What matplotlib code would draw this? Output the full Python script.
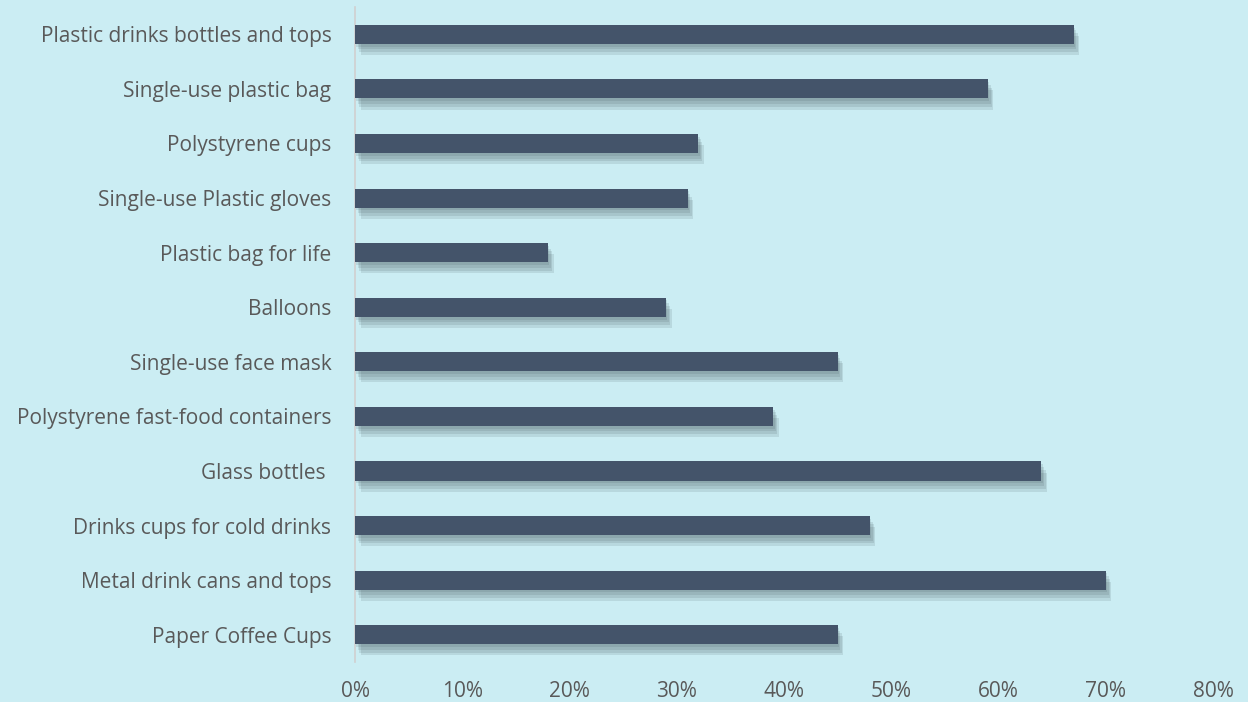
import matplotlib
matplotlib.use("Agg")
import matplotlib.pyplot as plt
import matplotlib.patheffects as pe
import numpy as np

# categories top -> bottom, share of respondents (%)
items = [
    "Plastic drinks bottles and tops",
    "Single-use plastic bag",
    "Polystyrene cups",
    "Single-use Plastic gloves",
    "Plastic bag for life",
    "Balloons",
    "Single-use face mask",
    "Polystyrene fast-food containers",
    "Glass bottles ",
    "Drinks cups for cold drinks",
    "Metal drink cans and tops",
    "Paper Coffee Cups",
]
values = [67, 59, 32, 31, 18, 29, 45, 39, 64, 48, 70, 45]
xticks = [0, 10, 20, 30, 40, 50, 60, 70, 80]

plt.rcParams['font.family'] = ['Open Sans', 'DejaVu Sans']

bg = '#cbedf3'
fig = plt.figure(figsize=(12.48, 7.02), dpi=100, facecolor=bg)
ax = fig.add_axes([0.2845, 0.057, 0.6875, 0.933])
ax.set_facecolor(bg)

y = np.arange(len(items))
# soft drop shadow built from a few offset layers
shadow = [pe.SimplePatchShadow(offset=(o, -2 * o), shadow_rgbFace='#3c4c52', alpha=0.13)
          for o in (4, 3, 2, 1)] + [pe.Normal()]
bars = ax.barh(y, values, height=0.35, color='#44546a', zorder=3)
for b in bars:
    b.set_path_effects(shadow)

ax.set_ylim(len(items) - 0.5, -0.5)
ax.set_xlim(0, 80)
ax.set_yticks(y)
ax.set_yticklabels(items)
ax.set_xticks(xticks)
ax.set_xticklabels([f"{t}%" for t in xticks])
ax.tick_params(axis='y', length=0, pad=17, labelsize=15, labelcolor='#595959')
ax.tick_params(axis='x', length=0, pad=14, labelsize=15, labelcolor='#595959')

for s in ['top', 'right', 'bottom']:
    ax.spines[s].set_visible(False)
ax.spines['left'].set_color('#d0d0d0')
ax.spines['left'].set_linewidth(1.2)

fig.savefig("out.png", dpi=100, facecolor=bg)
